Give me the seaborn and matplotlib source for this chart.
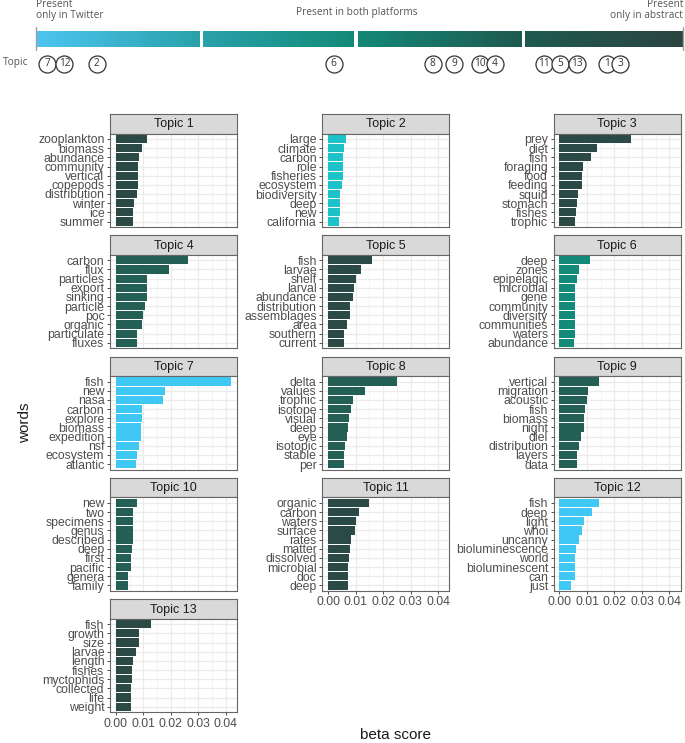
import numpy as np
import seaborn as sns
import matplotlib.pyplot as plt
from matplotlib.colors import LinearSegmentedColormap

# top scale: topic position between "only in Twitter" (0) and "only in abstract" (1)
topic_ids = [7, 12, 2, 6, 8, 9, 10, 4, 11, 5, 13, 1, 3]
topic_pos = [0.017, 0.044, 0.094, 0.460, 0.613, 0.646, 0.686, 0.709, 0.785, 0.810, 0.836, 0.882, 0.903]
segments = [(0.0, 0.252), (0.258, 0.490), (0.498, 0.750), (0.756, 1.0)]
grad_colors = ['#4cc4f0', '#2aa2ab', '#138a78', '#1f5a50', '#2b4541']

# top words per topic and beta scores
words = {
    1: ['zooplankton', 'biomass', 'abundance', 'community', 'vertical', 'copepods', 'distribution', 'winter', 'ice', 'summer'],
    2: ['large', 'climate', 'carbon', 'role', 'fisheries', 'ecosystem', 'biodiversity', 'deep', 'new', 'california'],
    3: ['prey', 'diet', 'fish', 'foraging', 'food', 'feeding', 'squid', 'stomach', 'fishes', 'trophic'],
    4: ['carbon', 'flux', 'particles', 'export', 'sinking', 'particle', 'poc', 'organic', 'particulate', 'fluxes'],
    5: ['fish', 'larvae', 'shelf', 'larval', 'abundance', 'distribution', 'assemblages', 'area', 'southern', 'current'],
    6: ['deep', 'zones', 'epipelagic', 'microbial', 'gene', 'community', 'diversity', 'communities', 'waters', 'abundance'],
    7: ['fish', 'new', 'nasa', 'carbon', 'explore', 'biomass', 'expedition', 'nsf', 'ecosystem', 'atlantic'],
    8: ['delta', 'values', 'trophic', 'isotope', 'visual', 'deep', 'eye', 'isotopic', 'stable', 'per'],
    9: ['vertical', 'migration', 'acoustic', 'fish', 'biomass', 'night', 'diel', 'distribution', 'layers', 'data'],
    10: ['new', 'two', 'specimens', 'genus', 'described', 'deep', 'first', 'pacific', 'genera', 'family'],
    11: ['organic', 'carbon', 'waters', 'surface', 'rates', 'matter', 'dissolved', 'microbial', 'doc', 'deep'],
    12: ['fish', 'deep', 'light', 'whoi', 'uncanny', 'bioluminescence', 'world', 'bioluminescent', 'can', 'just'],
    13: ['fish', 'growth', 'size', 'larvae', 'length', 'fishes', 'myctophids', 'collected', 'life', 'weight'],
}
beta = {
    1: [0.0112, 0.0097, 0.0083, 0.0082, 0.0082, 0.0080, 0.0077, 0.0066, 0.0063, 0.0061],
    2: [0.0064, 0.0058, 0.0056, 0.0055, 0.0053, 0.0050, 0.0042, 0.0042, 0.0042, 0.0041],
    3: [0.0260, 0.0138, 0.0115, 0.0087, 0.0082, 0.0081, 0.0069, 0.0062, 0.0061, 0.0058],
    4: [0.0262, 0.0194, 0.0115, 0.0113, 0.0112, 0.0105, 0.0099, 0.0096, 0.0078, 0.0078],
    5: [0.0160, 0.0119, 0.0103, 0.0095, 0.0091, 0.0080, 0.0078, 0.0069, 0.0058, 0.0057],
    6: [0.0112, 0.0070, 0.0062, 0.0058, 0.0058, 0.0057, 0.0057, 0.0057, 0.0056, 0.0053],
    7: [0.0420, 0.0180, 0.0170, 0.0097, 0.0095, 0.0092, 0.0090, 0.0083, 0.0077, 0.0075],
    8: [0.0252, 0.0133, 0.0089, 0.0083, 0.0076, 0.0071, 0.0068, 0.0062, 0.0058, 0.0057],
    9: [0.0142, 0.0105, 0.0099, 0.0094, 0.0090, 0.0089, 0.0077, 0.0071, 0.0064, 0.0062],
    10: [0.0076, 0.0061, 0.0061, 0.0061, 0.0061, 0.0058, 0.0054, 0.0054, 0.0046, 0.0046],
    11: [0.0149, 0.0112, 0.0103, 0.0097, 0.0082, 0.0078, 0.0076, 0.0074, 0.0074, 0.0073],
    12: [0.0143, 0.0117, 0.0089, 0.0082, 0.0070, 0.0060, 0.0057, 0.0057, 0.0055, 0.0043],
    13: [0.0128, 0.0084, 0.0084, 0.0075, 0.0063, 0.0060, 0.0058, 0.0056, 0.0056, 0.0054],
}
topic_colors = {
    1: '#2b4a45', 2: '#1dc2c9', 3: '#2b4a45', 4: '#245f56', 5: '#2b4a45',
    6: '#138a7a', 7: '#40c8f4', 8: '#245f56', 9: '#245f56', 10: '#245f56',
    11: '#2b4a45', 12: '#40c8f4', 13: '#2b4a45',
}

sns.set_style('white')
plt.rcParams['font.family'] = ['Liberation Sans', 'DejaVu Sans']

W, H = 685, 743
fig = plt.figure(figsize=(W / 100, H / 100), dpi=100)


def box(left, top, w, h):
    return [left / W, 1 - (top + h) / H, w / W, h / H]


# ---- top gradient scale ----
x0, x1 = 36, 683
span = x1 - x0
ax_top = fig.add_axes([0, 1 - 80 / H, 1, 80 / H])
ax_top.set_xlim(-x0 / span, (W - x0) / span)
ax_top.set_ylim(80, 0)
ax_top.axis('off')
cmap = LinearSegmentedColormap.from_list('plat', list(zip([0, 0.25, 0.49, 0.75, 1.0], grad_colors)))
for a, b in segments:
    g = np.linspace(a, b, 200)[None, :]
    ax_top.imshow(g, extent=(a, b, 47, 31), cmap=cmap, vmin=0, vmax=1, aspect='auto')
for xe in (0, 1):
    ax_top.plot([xe, xe], [27, 50], color='#a0a0a0', lw=1)
tfont = ['Open Sans', 'DejaVu Sans']
ax_top.text(0, 10, 'Present\nonly in Twitter', ha='left', va='center', fontsize=7.3,
            color='#555555', family=tfont, linespacing=1.1)
ax_top.text(1, 10, 'Present\nonly in abstract', ha='right', va='center', fontsize=7.3,
            color='#555555', family=tfont, linespacing=1.1)
ax_top.text(0.496, 12.5, 'Present in both platforms', ha='center', va='center', fontsize=7.3,
            color='#555555', family=tfont)
ax_top.text(-33 / span, 63, 'Topic', ha='left', va='center', fontsize=7.3, color='#555555', family=tfont)
for k, (tid, p) in enumerate(zip(topic_ids, topic_pos)):
    ax_top.scatter([p], [63.5], s=150, facecolor='white', edgecolor='#333333', lw=0.9, zorder=3 + k * 2)
    ax_top.text(p, 63.5, str(tid), ha='center', va='center', fontsize=7.3, color='#333333',
                family=tfont, zorder=4 + k * 2)

# ---- facet panels ----
col_left = [110, 322.3, 553.7]
strip_top0 = 114
row_pitch = 121.3
strip_h = 19.5
panel_h = 93.5
panel_w = 127
xmax = 0.042
xlim = (-0.05 * xmax, 1.05 * xmax)
bottom_topics = [11, 12, 13]

for t in range(1, 14):
    r, c = (t - 1) // 3, (t - 1) % 3
    st = strip_top0 + r * row_pitch
    # strip
    ax_s = fig.add_axes(box(col_left[c], st, panel_w, strip_h))
    ax_s.set_facecolor('#d9d9d9')
    ax_s.set_xticks([])
    ax_s.set_yticks([])
    for sp in ax_s.spines.values():
        sp.set_color('#666666')
        sp.set_linewidth(0.8)
    ax_s.text(0.5, 0.47, f'Topic {t}', ha='center', va='center', fontsize=9, color='#1a1a1a',
              transform=ax_s.transAxes)
    # panel
    ax = fig.add_axes(box(col_left[c], st + strip_h, panel_w, panel_h))
    ax.set_axisbelow(True)
    sns.barplot(x=beta[t], y=words[t], orient='h', color=topic_colors[t], saturation=1,
                width=0.9, linewidth=0, ax=ax)
    ax.set_xlim(*xlim)
    ax.set_ylim(9.6, -0.6)
    ax.set_xticks([0, 0.01, 0.02, 0.03, 0.04])
    ax.set_xticks([0.005, 0.015, 0.025, 0.035], minor=True)
    ax.set_xticklabels(['0.00', '0.01', '0.02', '0.03', '0.04'])
    ax.grid(which='major', color='#ebebeb', lw=0.9)
    ax.grid(which='minor', axis='x', color='#f0f0f0', lw=0.5)
    ax.set_xlabel('')
    ax.set_ylabel('')
    for sp in ax.spines.values():
        sp.set_color('#666666')
        sp.set_linewidth(0.8)
    ax.tick_params(axis='y', length=2.5, width=0.6, color='#333333', labelsize=8.8,
                   labelcolor='#4d4d4d', pad=1.5, left=True)
    ax.tick_params(axis='x', which='minor', length=0)
    if t in bottom_topics:
        ax.tick_params(axis='x', which='major', length=2.5, width=0.6, color='#333333',
                       labelsize=8.8, labelcolor='#4d4d4d', pad=1.5, bottom=True)
    else:
        ax.tick_params(axis='x', which='major', length=0, labelbottom=False)

fig.text(25 / W, 1 - 423 / H, 'words', rotation=90, ha='center', va='center', fontsize=11, color='#1a1a1a')
fig.text(395.5 / W, 1 - 735 / H, 'beta score', ha='center', va='center', fontsize=11, color='#1a1a1a')

fig.savefig('out.png', dpi=100)
